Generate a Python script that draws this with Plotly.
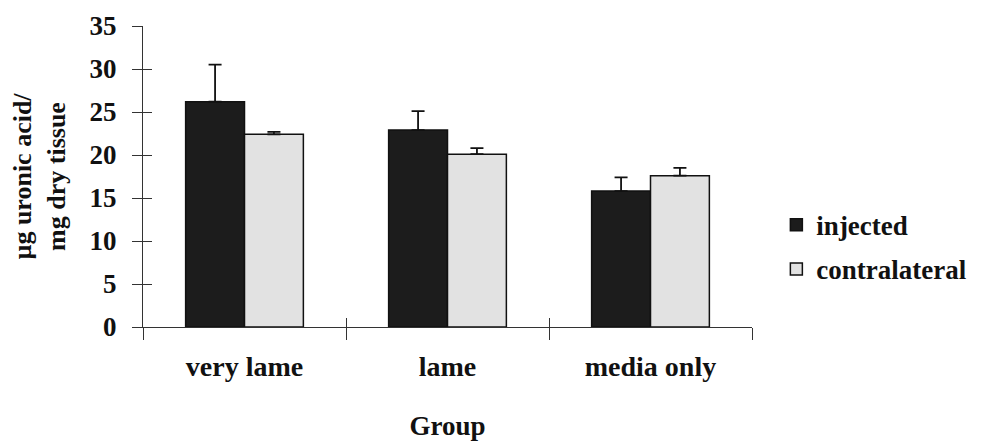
import plotly.graph_objects as go

groups = ["very lame", "lame", "media only"]
injected = [26.2, 22.9, 15.8]
injected_err = [4.3, 2.2, 1.6]
contralateral = [22.4, 20.1, 17.6]
contralateral_err = [0.3, 0.7, 0.9]
y_ticks = [0, 5, 10, 15, 20, 25, 30, 35]
x_bounds = [-0.5, 0.5, 1.5, 2.5]

FONT = "Liberation Serif, Times New Roman, Tinos, DejaVu Serif, serif"
fig = go.Figure()
fig.add_trace(go.Bar(
    x=groups, y=injected, name="<b>injected</b>", legendgroup="a",
    marker=dict(color="#1c1c1c", line=dict(color="#111", width=1.5)),
    error_y=dict(type="data", array=injected_err, arrayminus=[0]*3, symmetric=False,
                 color="#111", thickness=1.8, width=6.5),
))
fig.add_trace(go.Bar(
    x=groups, y=contralateral, name="<b>contralateral</b>", legendgroup="b",
    marker=dict(color="#e2e2e2", line=dict(color="#111", width=1.5)),
    error_y=dict(type="data", array=contralateral_err, arrayminus=[0]*3, symmetric=False,
                 color="#111", thickness=1.8, width=6.5),
))
# invisible helper trace so the overlay axes (inner halves of crossing ticks) render
fig.add_trace(go.Scatter(x=x_bounds, y=[y_ticks[0]] * len(x_bounds), xaxis="x2", yaxis="y2",
                         mode="markers", marker=dict(opacity=0, size=1),
                         showlegend=False, hoverinfo="skip"))

# page body has an 8px margin, so the figure is shrunk by 8px to fit the window
fig.update_layout(
    width=979, height=433,
    margin=dict(l=135, r=235, t=18, b=114),
    paper_bgcolor="white", plot_bgcolor="white",
    font=dict(family=FONT, color="#111"),
    barmode="group", bargap=0.42, bargroupgap=0,
    showlegend=True,
    legend=dict(x=1.04, y=0.265, xanchor="left", yanchor="middle",
                font=dict(family=FONT, size=27, color="#111"),
                tracegroupgap=6, traceorder="grouped", bgcolor="rgba(0,0,0,0)"),
    xaxis=dict(type="category", categoryorder="array", categoryarray=groups,
               range=[-0.5, 2.5], tickson="boundaries", automargin=False,
               showline=True, linecolor="#333", linewidth=1,
               ticks="outside", ticklen=12, tickcolor="#333", tickwidth=1,
               tickfont=dict(family=FONT, size=28, color="#111"),
               ticklabelstandoff=14,
               tickvals=groups, ticktext=["<b>%s</b>" % g for g in groups],
               title=dict(text="<b>Group</b>", font=dict(family=FONT, size=27, color="#111"),
                          standoff=35),
               showgrid=False, zeroline=False),
    yaxis=dict(range=[0, 35], tickvals=y_ticks, ticktext=["<b>%d</b>" % v for v in y_ticks],
               automargin=False,
               showline=True, linecolor="#333", linewidth=1,
               ticks="outside", ticklen=10, tickcolor="#333", tickwidth=1,
               tickfont=dict(family=FONT, size=27, color="#111"),
               ticklabelstandoff=10,
               title=dict(text="<b>µg uronic acid/<br>mg dry tissue</b>",
                          font=dict(family=FONT, size=26, color="#111"), standoff=17),
               showgrid=False, zeroline=False),
    xaxis2=dict(overlaying="x", anchor="y2", side="bottom", range=[-0.5, 2.5],
                tickvals=x_bounds, ticks="inside", ticklen=9,
                tickcolor="#333", tickwidth=1, showticklabels=False,
                showgrid=False, zeroline=False, showline=False),
    yaxis2=dict(overlaying="y", anchor="x2", side="left", range=[0, 35],
                tickvals=y_ticks, ticks="inside", ticklen=9,
                tickcolor="#333", tickwidth=1, showticklabels=False,
                showgrid=False, zeroline=False, showline=False),
)

fig.write_html("out.html")
